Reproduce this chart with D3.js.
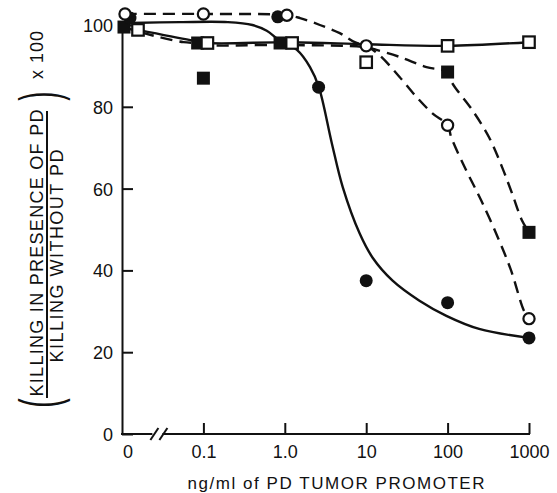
<!DOCTYPE html>
<html lang="en">
<head>
<meta charset="UTF-8">
<title>Killing in presence of PD tumor promoter</title>
<style>
  body { margin: 0; background: #fff; }
  svg { display: block; }
  text { font-family: "Liberation Sans", Arial, sans-serif; fill: #111; }
  .tick text { font-size: 18px; }
  .tick line, .axis-line { stroke: #111; stroke-width: 2px; }
  .fit { fill: none; stroke: #111; stroke-width: 2.4px; }
  .dashed { stroke-dasharray: 12 7; }
</style>
<script src="https://d3js.org/d3.v7.min.js"></script>
</head>
<body>
<script>
// x: ng/ml of PD (0 = no promoter), y: (killing with PD / killing without PD) x 100
const xTicks = [0.1, 1, 10, 100, 1000];
const xTickLabels = ["0.1", "1.0", "10", "100", "1000"];
const yTicks = [0, 20, 40, 60, 80, 100];

// measured points
const filledCircleDose  = [0, 0.82, 2.6, 10, 100, 1000];
const filledCircleValue = [101.7, 102, 84.8, 37.5, 32.1, 23.5];
const openCircleDose    = [0, 0.1, 1.06, 10, 100, 1000];
const openCircleValue   = [102.7, 102.7, 102.4, 94.9, 75.5, 28.2];
const filledSquareDose  = [0, 0.085, 0.1, 0.875, 100, 1000];
const filledSquareValue = [99.5, 95.6, 87.0, 95.6, 88.5, 49.3];
const openSquareDose    = [0, 0.112, 1.23, 10, 100, 1000];
const openSquareValue   = [98.8, 95.6, 95.6, 90.9, 94.9, 95.8];

// hand drawn curves
const filledCircleFitDose  = [0, 0.052, 0.2, 0.4, 0.6, 0.85, 1.41, 2.04, 2.62, 3.78, 5.16, 8.32, 12, 21.1, 45.1, 96.6, 244, 1000];
const filledCircleFitValue = [100.5, 100.7, 100.7, 100.0, 98.6, 96.3, 93.9, 89.7, 84.8, 71.1, 60.3, 49.0, 43.1, 37.5, 32.6, 28.9, 25.7, 23.5];
const openCircleFitDose    = [0, 0.1, 1.06, 1.54, 2.7, 4.74, 7.23, 10, 14.6, 25.7, 41.5, 65.1, 100, 111, 169, 259, 430, 602, 869, 1000];
const openCircleFitValue   = [102.7, 102.7, 102.4, 101.7, 100.0, 98.0, 95.8, 94.9, 92.6, 87.3, 82.4, 78.4, 75.5, 72.5, 64.5, 57.1, 47.3, 40.0, 30.1, 28.2];
const filledSquareFitDose  = [0, 0.0185, 0.057, 0.085, 0.112, 0.875, 9.6, 13.4, 25.7, 55, 100, 114, 201, 324, 468, 620, 821, 1000];
const filledSquareFitValue = [99.5, 98.0, 95.8, 95.6, 95.1, 95.1, 94.6, 93.9, 92.2, 89.7, 88.5, 85.8, 79.2, 72.5, 65.2, 58.8, 52.2, 49.3];
const openSquareFitDose    = [0, 0.069, 0.112, 1.23, 10, 100, 1000];
const openSquareFitValue   = [98.8, 96.3, 95.6, 95.8, 95.3, 94.9, 95.8];

const width = 557, height = 493;
const svg = d3.select("body").append("svg")
    .attr("width", width)
    .attr("height", height);

// the "0" dose sits one decade left of 0.1, behind the axis break
const x = d3.scaleLog().domain([0.01, 1000]).range([122, 529]);
const y = d3.scaleLinear().domain([0, 100]).range([434, 25]);

// points at zero dose are spread a little so they don't hide each other
const series = [
    {dose: filledSquareDose, value: filledSquareValue, fitDose: filledSquareFitDose, fitValue: filledSquareFitValue,
     shape: "square", filled: true, dashed: true, nudge: 2},
    {dose: filledCircleDose, value: filledCircleValue, fitDose: filledCircleFitDose, fitValue: filledCircleFitValue,
     shape: "circle", filled: true, dashed: false, nudge: 8},
    {dose: openSquareDose, value: openSquareValue, fitDose: openSquareFitDose, fitValue: openSquareFitValue,
     shape: "square", filled: false, dashed: false, nudge: 16},
    {dose: openCircleDose, value: openCircleValue, fitDose: openCircleFitDose, fitValue: openCircleFitValue,
     shape: "circle", filled: false, dashed: true, nudge: 3}
];

function xPos(d, nudge) {
    return d === 0 ? x(0.01) + nudge : x(d);
}

// axes
const xAxis = svg.append("g")
    .attr("transform", `translate(0,${y(0)})`)
    .call(d3.axisBottom(x)
        .tickValues(xTicks)
        .tickFormat((d, i) => xTickLabels[i])
        .tickSize(-11)
        .tickSizeOuter(0)
        .tickPadding(11));
xAxis.select(".domain").remove();

svg.append("text")
    .attr("x", x(0.01) + 6)
    .attr("y", y(0) + 11)
    .attr("dy", "0.71em")
    .attr("text-anchor", "middle")
    .style("font-size", "18px")
    .text("0");

const yAxis = svg.append("g")
    .attr("transform", `translate(${x(0.01)},0)`)
    .call(d3.axisLeft(y)
        .tickValues(yTicks)
        .tickSize(-11)
        .tickSizeOuter(0)
        .tickPadding(9));
yAxis.select(".domain")
    .attr("stroke", "#111")
    .attr("stroke-width", 2);
yAxis.selectAll(".tick text").attr("dy", "0.36em");

// x axis line with the break
const brk = x(0.025);
svg.append("line").attr("class", "axis-line")
    .attr("x1", x(0.01) - 1).attr("x2", brk - 2)
    .attr("y1", y(0)).attr("y2", y(0));
svg.append("line").attr("class", "axis-line")
    .attr("x1", brk + 8).attr("x2", x(1000) + 1)
    .attr("y1", y(0)).attr("y2", y(0));
[brk, brk + 9].forEach(bx => {
    svg.append("line").attr("class", "axis-line")
        .attr("x1", bx - 4).attr("y1", y(0) + 6)
        .attr("x2", bx + 4).attr("y2", y(0) - 6);
});

// curves
series.forEach(s => {
    const pts = s.fitDose.map((d, i) => [xPos(d, s.nudge), y(s.fitValue[i])]);
    svg.append("path")
        .attr("class", s.dashed ? "fit dashed" : "fit")
        .attr("d", d3.line().curve(d3.curveCatmullRom.alpha(0.5))(pts));
});

// markers
series.forEach(s => {
    const g = svg.append("g");
    s.dose.forEach((d, i) => {
        const cx = xPos(d, s.nudge), cy = y(s.value[i]);
        if (s.shape === "circle") {
            g.append("circle")
                .attr("cx", cx).attr("cy", cy)
                .attr("r", s.filled ? 6.5 : 5.6)
                .attr("fill", s.filled ? "#111" : "#fff")
                .attr("stroke", "#111")
                .attr("stroke-width", s.filled ? 0 : 2.2);
        } else {
            const side = s.filled ? 13 : 11.5;
            g.append("rect")
                .attr("x", cx - side / 2).attr("y", cy - side / 2)
                .attr("width", side).attr("height", side)
                .attr("fill", s.filled ? "#111" : "#fff")
                .attr("stroke", "#111")
                .attr("stroke-width", s.filled ? 0 : 2.2);
        }
    });
});

// x title
svg.append("text")
    .attr("x", 336).attr("y", 489)
    .attr("text-anchor", "middle")
    .attr("textLength", 297)
    .attr("lengthAdjust", "spacing")
    .style("font-size", "17px")
    .text("ng/ml of PD TUMOR PROMOTER");

// y title: ( KILLING IN PRESENCE OF PD / KILLING WITHOUT PD ) x 100
const yt = svg.append("g");
yt.append("text")
    .attr("transform", "translate(43,253) rotate(-90)")
    .attr("text-anchor", "middle")
    .attr("textLength", 287)
    .attr("lengthAdjust", "spacing")
    .style("font-size", "18px")
    .text("KILLING IN PRESENCE OF PD");
yt.append("line")
    .attr("x1", 47).attr("x2", 47)
    .attr("y1", 111).attr("y2", 398)
    .attr("stroke", "#111").attr("stroke-width", 2);
yt.append("text")
    .attr("transform", "translate(63,256) rotate(-90)")
    .attr("text-anchor", "middle")
    .attr("textLength", 213)
    .attr("lengthAdjust", "spacing")
    .style("font-size", "18px")
    .text("KILLING WITHOUT PD");
yt.append("text")
    .attr("transform", "translate(58,403) rotate(-90) scale(0.5,1)")
    .attr("text-anchor", "middle")
    .style("font-size", "56px")
    .text("(");
yt.append("text")
    .attr("transform", "translate(58,96) rotate(-90) scale(0.5,1)")
    .attr("text-anchor", "middle")
    .style("font-size", "56px")
    .text(")");
yt.append("text")
    .attr("transform", "translate(43,55) rotate(-90)")
    .attr("text-anchor", "middle")
    .attr("textLength", 48)
    .attr("lengthAdjust", "spacing")
    .style("font-size", "18px")
    .text("x 100");
</script>
</body>
</html>
